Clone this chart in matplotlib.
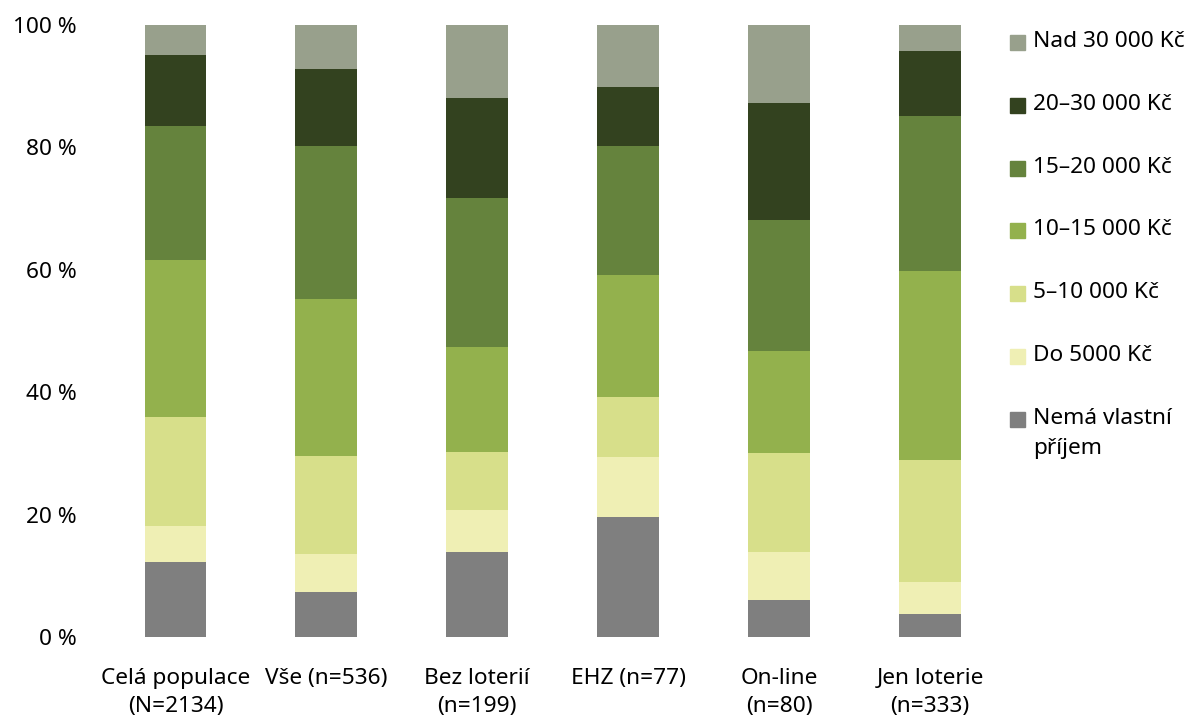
import matplotlib
matplotlib.use('Agg')
import matplotlib.pyplot as plt
from matplotlib.patches import Rectangle
import numpy as np

plt.rcParams['font.family'] = ['Noto Sans', 'DejaVu Sans']

skupiny = ['Celá populace\n(N=2134)', 'Vše (n=536)', 'Bez loterií\n(n=199)',
           'EHZ (n=77)', 'On-line\n(n=80)', 'Jen loterie\n(n=333)']

kategorie = ['Nemá vlastní\npříjem', 'Do 5000 Kč', '5–10 000 Kč', '10–15 000 Kč',
             '15–20 000 Kč', '20–30 000 Kč', 'Nad 30 000 Kč']
barvy = ['#7f7f7f', '#efefb4', '#d7df8a', '#93b14d', '#65833d', '#33421f', '#98a08c']

nema_prijem = [12.3, 7.4, 13.9, 19.7, 6.1, 3.8]
do_5000 = [5.9, 6.2, 6.9, 9.8, 7.8, 5.2]
od_5_do_10 = [17.8, 16.0, 9.4, 9.8, 16.2, 20.0]
od_10_do_15 = [25.7, 25.7, 17.2, 19.9, 16.7, 30.8]
od_15_do_20 = [21.8, 24.9, 24.3, 21.0, 21.3, 25.3]
od_20_do_30 = [11.6, 12.6, 16.3, 9.7, 19.2, 10.7]
nad_30 = [4.9, 7.2, 12.0, 10.1, 12.7, 4.2]

serie = [nema_prijem, do_5000, od_5_do_10, od_10_do_15, od_15_do_20, od_20_do_30, nad_30]

FS = 16.3

fig = plt.figure(figsize=(11.89, 7.19), dpi=100)
ax = fig.add_axes([0.0841, 0.1136, 0.7616, 0.8516])

x = np.arange(len(skupiny))
spodek = np.zeros(len(skupiny))
for hodnoty, barva in zip(serie, barvy):
    ax.bar(x, hodnoty, bottom=spodek, width=0.41, color=barva)
    spodek += np.array(hodnoty)

ax.set_xlim(-0.5, len(skupiny) - 0.5)
ax.set_ylim(0, 100)
ax.set_yticks(range(0, 101, 20))
ax.set_yticklabels([f'{v} %' for v in range(0, 101, 20)])
ax.set_xticks(x)
ax.set_xticklabels(skupiny, linespacing=1.45)
ax.tick_params(axis='both', length=0, labelsize=FS, colors='black')
ax.tick_params(axis='y', pad=17)
ax.tick_params(axis='x', pad=22)
for s in ax.spines.values():
    s.set_visible(False)

# legenda vpravo, od nejvyšší kategorie
W, H = 1189, 719
for i, (popis, barva) in enumerate(zip(kategorie[::-1], barvy[::-1])):
    yc = 42.5 + i * 62.8
    fig.patches.append(Rectangle((1010 / W, 1 - (yc + 7.5) / H), 15 / W, 15 / H,
                                 transform=fig.transFigure, color=barva))
    fig.text(1033 / W, 1 - (yc - 11.5) / H, popis, fontsize=FS, va='top', ha='left',
             linespacing=1.6)

plt.savefig('out.png', dpi=100)
plt.close()
